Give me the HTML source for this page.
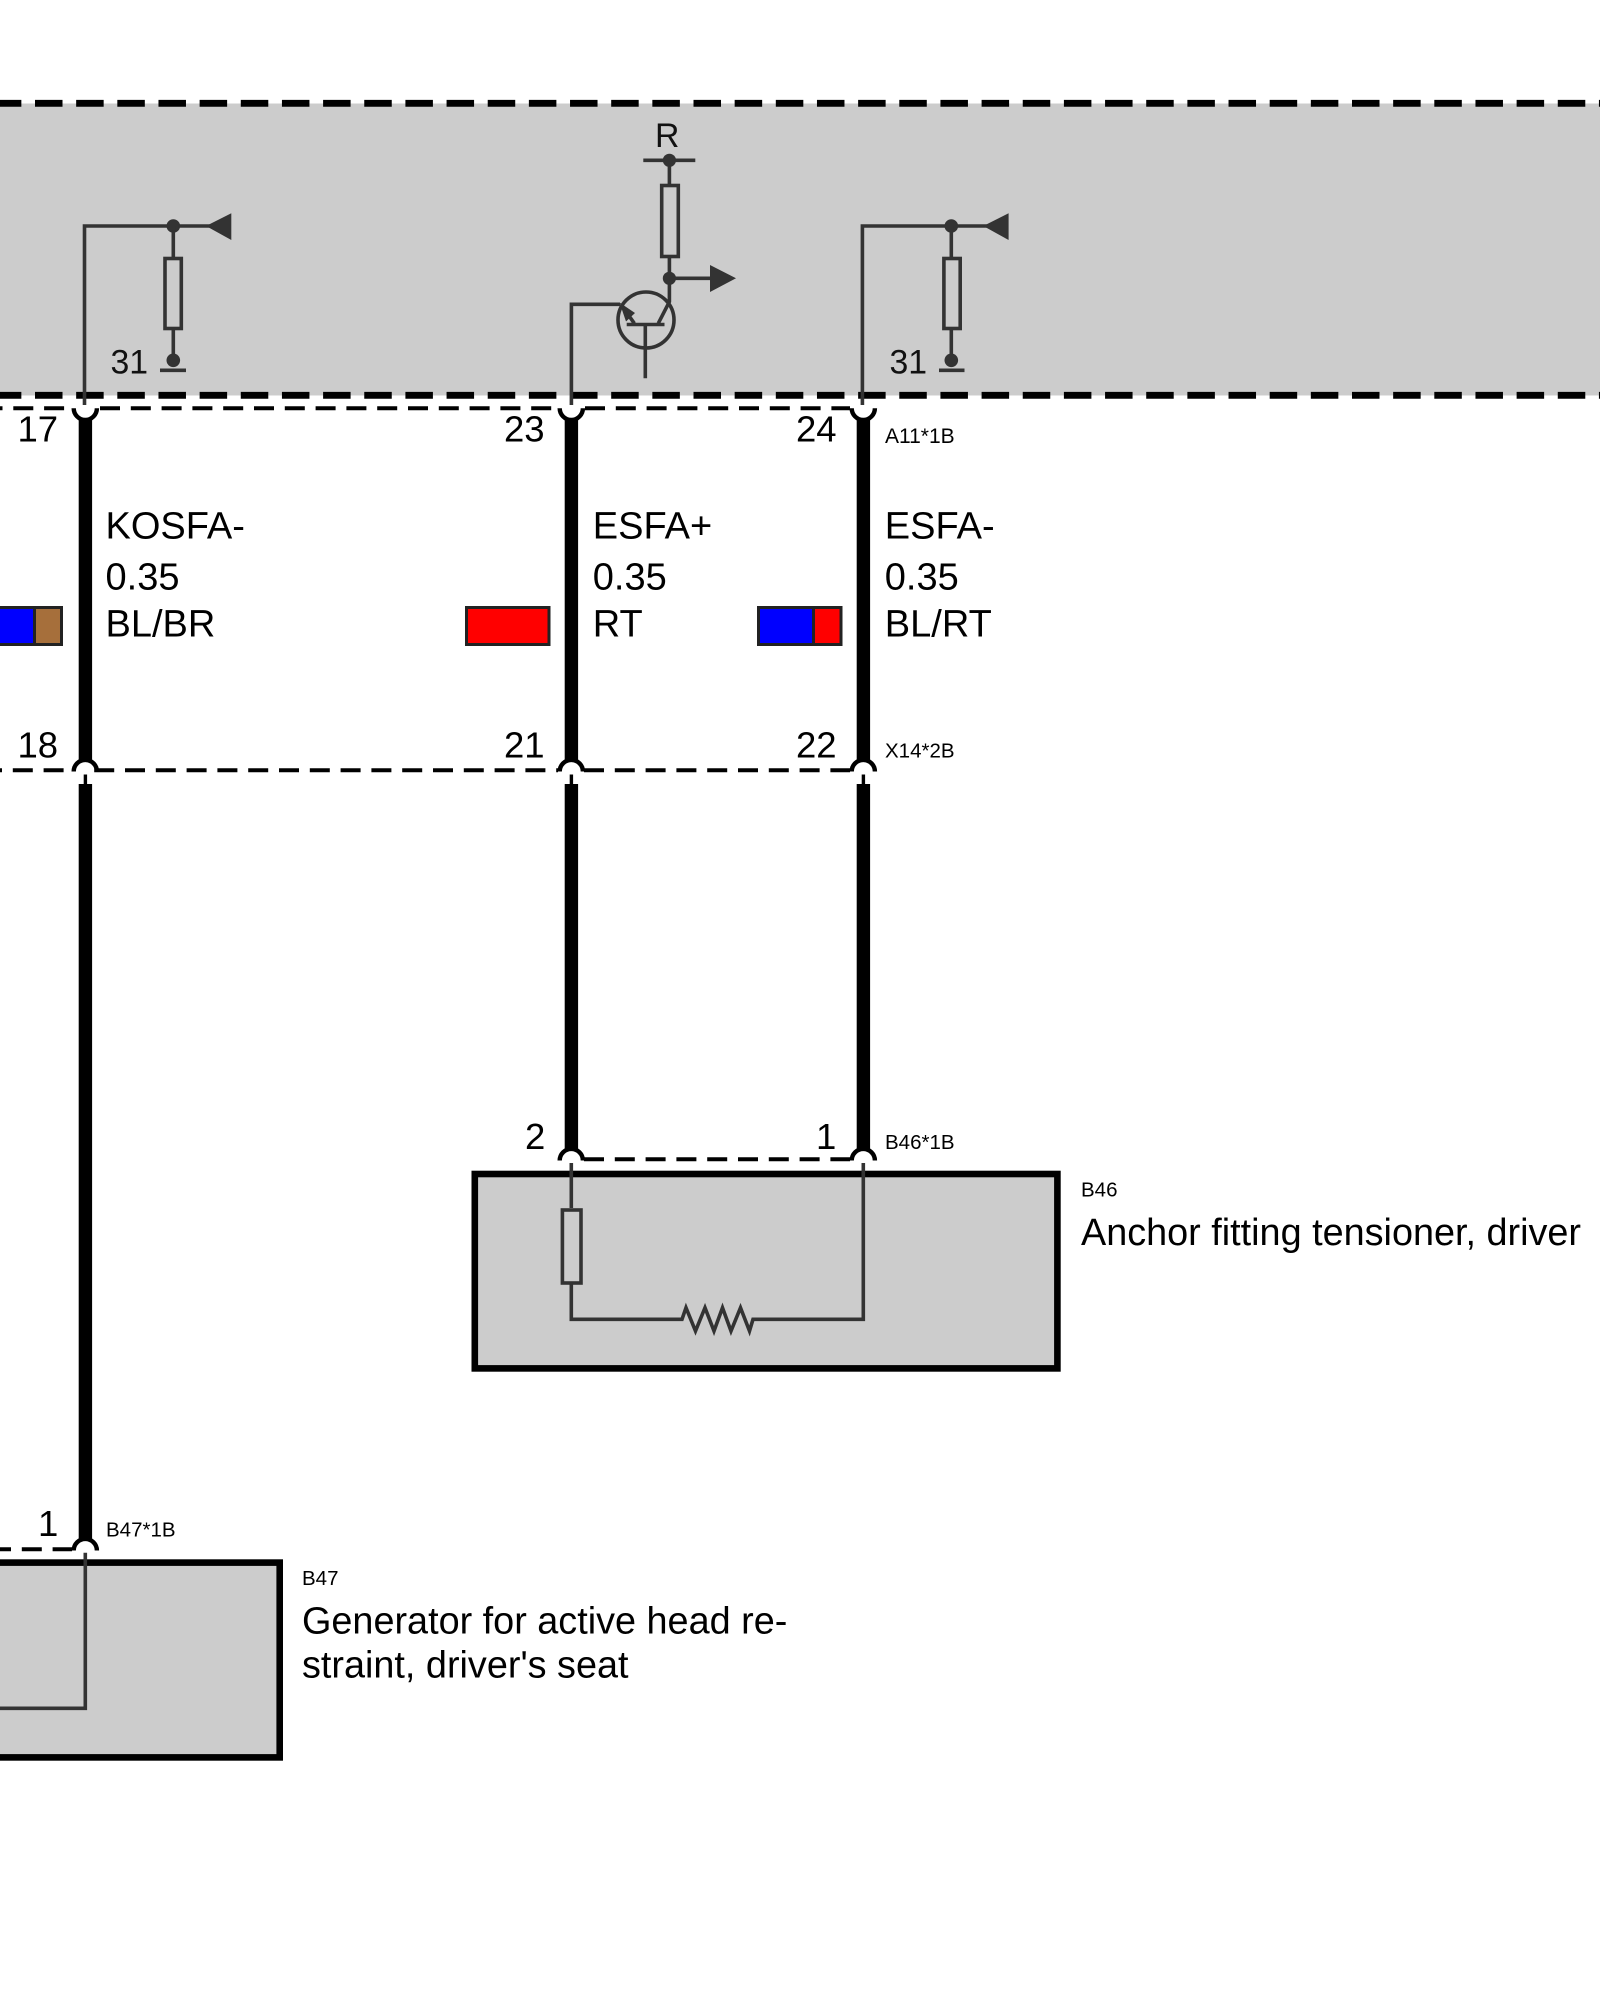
<!DOCTYPE html>
<html><head><meta charset="utf-8"><style>html,body{margin:0;padding:0;background:#fff}svg{display:block}text{font-family:"Liberation Sans",Arial,sans-serif;fill:#000}.p{font-size:36.5px}.w{font-size:38px}.x{font-size:37.8px}.s{font-size:20.5px}.g{font-size:33.8px;fill:#111}.t{fill:none;stroke:#333;stroke-width:3.6}.f{fill:#333;stroke:none}.d{fill:none;stroke:#000;stroke-width:4;stroke-dasharray:20 10.8}.a{fill:none;stroke:#000;stroke-width:4.4}.c{stroke:#222;stroke-width:3}</style></head><body>
<svg width="1600" height="2000" viewBox="0 0 1600 2000" xmlns="http://www.w3.org/2000/svg">
<rect width="1600" height="2000" fill="#fff"/>
<rect x="0" y="103.5" width="1600" height="292" fill="#ccc"/>
<g fill="none" stroke="#000" stroke-width="6.8" stroke-dasharray="27.5 13.656"><path d="M-6.15 103.3H1600"/><path d="M-6.15 395.3H1600"/></g>

<!-- thin dashed connector lines -->
<path class="d" d="M-17.5 408.3H72"/><path class="d" d="M100 408.3H558"/><path class="d" d="M585 408.3H850"/>
<path class="d" d="M-18 770.3H72"/><path class="d" d="M94.2 770.3H558"/><path class="d" d="M584 770.3H850"/>
<path class="d" d="M584 1159.3H850"/>
<path class="d" d="M-9 1549.3H72"/>

<!-- wires -->
<g fill="#000"><rect x="78.7" y="420" width="13.4" height="340"/><rect x="564.7" y="420" width="13.4" height="340"/><rect x="856.7" y="420" width="13.4" height="340"/>
<rect x="78.7" y="784" width="13.4" height="755"/><rect x="564.7" y="784" width="13.4" height="365"/><rect x="856.7" y="784" width="13.4" height="365"/></g>
<!-- arcs -->
<path class="a" d="M73.7 408.3A11.6 11.6 0 0 0 96.9 408.3"/><path class="a" d="M559.7 408.3A11.6 11.6 0 0 0 582.9 408.3"/><path class="a" d="M851.7 408.3A11.6 11.6 0 0 0 874.9 408.3"/>
<path class="a" d="M73.7 771.5A11.6 11.6 0 0 1 96.9 771.5"/><path class="a" d="M559.7 771.5A11.6 11.6 0 0 1 582.9 771.5"/><path class="a" d="M851.7 771.5A11.6 11.6 0 0 1 874.9 771.5"/>
<path class="a" d="M559.7 1160.5A11.6 11.6 0 0 1 582.9 1160.5"/><path class="a" d="M851.7 1160.5A11.6 11.6 0 0 1 874.9 1160.5"/>
<path class="a" d="M73.7 1550.5A11.6 11.6 0 0 1 96.9 1550.5"/>
<g stroke="#000" stroke-width="3.4"><path d="M85.4 774.5V785M571.4 774.5V785M863.4 774.5V785"/></g>

<!-- left channel -->
<path class="t" d="M84.5 405V226H210"/>
<circle class="f" cx="173.3" cy="226" r="6.8"/><path class="f" d="M206 226L231.3 213.3V240Z"/>
<path class="t" d="M173.3 226V257M173.3 329V360"/><rect class="t" x="165" y="258.5" width="16.3" height="70"/>
<circle class="f" cx="173.3" cy="360.3" r="6.8"/><path class="t" d="M160 370.3H186"/>
<text class="g" x="110.5" y="373.5">31</text>

<!-- right channel -->
<path class="t" d="M862.4 405V226H988"/>
<circle class="f" cx="951.3" cy="226" r="6.8"/><path class="f" d="M983.3 226L1008.6 213.3V240Z"/>
<path class="t" d="M951.3 226V257M951.3 329V360"/><rect class="t" x="943.9" y="258.5" width="16.3" height="70"/>
<circle class="f" cx="951.3" cy="360.3" r="6.8"/><path class="t" d="M939 370.3H964.5"/>
<text class="g" x="889.5" y="373.5">31</text>

<!-- transistor channel -->
<text class="g" x="655" y="147">R</text>
<path class="t" d="M643.3 160.3H695.3M669.4 160.3V185M669.4 257V301.7L658.3 323.3"/>
<circle class="f" cx="669.4" cy="160.3" r="6.6"/>
<rect class="t" x="661.7" y="185.5" width="16.6" height="71"/>
<circle class="f" cx="669.4" cy="278.3" r="6.6"/>
<path class="t" d="M669.4 278.3H712"/><path class="f" d="M736 278.3L710 265V292Z"/>
<circle class="t" cx="646" cy="320" r="28"/>
<path class="t" d="M626.7 324.5H664.5M645.3 324.5V378.3M634.3 323.3L622 306M571.4 405V304.3H620"/>
<path class="f" d="M619.5 302.5L635 313L626 321.5Z"/>

<!-- colour boxes -->
<rect class="c" x="-24" y="607.5" width="58.5" height="37" fill="#00f"/><rect class="c" x="34.5" y="607.5" width="27" height="37" fill="#a66f3b"/>
<rect class="c" x="466.5" y="607.5" width="82.5" height="37" fill="#f00"/>
<rect class="c" x="758.5" y="607.5" width="55" height="37" fill="#00f"/><rect class="c" x="813.5" y="607.5" width="27.5" height="37" fill="#f00"/>

<!-- pin labels -->
<text class="p" x="17.5" y="441.7">17</text><text class="p" x="504" y="441.7">23</text><text class="p" x="796" y="441.7">24</text>
<text class="p" x="17.5" y="757.3">18</text><text class="p" x="504" y="757.3">21</text><text class="p" x="796" y="757.3">22</text>
<text class="p" x="525" y="1149">2</text><text class="p" x="816" y="1149">1</text><text class="p" x="38" y="1536">1</text>
<text class="s" x="885" y="443" style="font-size:21px">A11*1B</text><text class="s" x="885" y="757.3">X14*2B</text><text class="s" x="885" y="1149">B46*1B</text><text class="s" x="106" y="1536.7">B47*1B</text>

<!-- wire labels -->
<g class="w"><text x="105.5" y="538.3">KOSFA-</text><text x="105.5" y="589.5">0.35</text><text x="105.5" y="636.7">BL/BR</text>
<text x="592.8" y="538.3">ESFA+</text><text x="592.8" y="589.5">0.35</text><text x="592.8" y="636.7">RT</text>
<text x="884.8" y="538.3">ESFA-</text><text x="884.8" y="589.5">0.35</text><text x="884.8" y="636.7">BL/RT</text></g>

<!-- B46 -->
<rect x="474.8" y="1174" width="582.6" height="194.4" fill="#ccc" stroke="#000" stroke-width="6.6"/>
<path class="t" d="M571.3 1163V1208M571.3 1284V1319.3H682L686 1307.7L695.5 1331L705 1307.7L714 1331L722.5 1307.7L731 1331L740.5 1307.7L749.5 1331L753 1319.3H863.3V1163"/>
<rect class="t" x="562.4" y="1210" width="18.6" height="73"/>
<text class="s" x="1081" y="1196.7">B46</text>
<text class="x" x="1081" y="1245">Anchor fitting tensioner, driver</text>

<!-- B47 -->
<rect x="-10" y="1562.6" width="289.7" height="194.8" fill="#ccc" stroke="#000" stroke-width="6.6"/>
<path class="t" d="M85.3 1552.7V1708.3H-5"/>
<text class="s" x="302" y="1585">B47</text>
<text class="x" x="302" y="1633.3">Generator for active head re-</text>
<text class="x" x="302" y="1677.7">straint, driver's seat</text>
</svg>
</body></html>
